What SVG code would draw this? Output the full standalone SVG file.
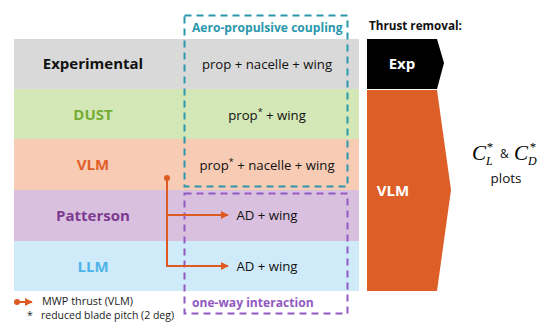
<svg xmlns="http://www.w3.org/2000/svg" width="550" height="323" viewBox="0 0 550 323">
<style>
.lbl{font-family:"Open Sans","Liberation Sans",sans-serif;font-weight:bold;font-size:15px;text-anchor:middle}
.cfg{font-family:"Open Sans","Liberation Sans",sans-serif;font-size:13.2px;fill:#111;text-anchor:middle}
.small{font-family:"Open Sans","Liberation Sans",sans-serif;font-size:10.5px;fill:#222}
.bh{font-family:"Open Sans","Liberation Sans",sans-serif;font-weight:bold;font-size:12.1px}
.conn{stroke:#DD5A22;stroke-width:2;fill:none}
.math{font-family:"Liberation Serif","DejaVu Serif",serif;font-style:italic}
</style>
<defs>
<marker id="ah" viewBox="0 0 10 10" refX="9" refY="5" markerWidth="4" markerHeight="4" orient="auto" markerUnits="strokeWidth">
<path d="M0,0 L10,5 L0,10 z" fill="#DD5A22"/>
</marker>
</defs>
<rect width="550" height="323" fill="#fff"/>
<g id="row-exp"><rect x="14" y="39" width="345" height="50" fill="#D9D9D9"/><text class="lbl" x="93" y="69" fill="#111">Experimental</text><text class="cfg" x="267" y="69">prop + nacelle + wing</text></g>
<g id="row-dust"><rect x="14" y="89" width="345" height="50" fill="#D3E8B6"/><text class="lbl" x="93" y="120" fill="#76AC35">DUST</text><text class="cfg" x="267" y="120">prop<tspan dy="-5" font-size="9">*</tspan><tspan dy="5"> + wing</tspan></text></g>
<g id="row-vlm"><rect x="14" y="139" width="345" height="51" fill="#F8CBB5"/><text class="lbl" x="93" y="170" fill="#E05F28">VLM</text><text class="cfg" x="267" y="170">prop<tspan dy="-5" font-size="9">*</tspan><tspan dy="5"> + nacelle + wing</tspan></text></g>
<g id="row-patterson"><rect x="14" y="190" width="345" height="51" fill="#D9C0DF"/><text class="lbl" x="93" y="221" fill="#7E3A90">Patterson</text><text class="cfg" x="267" y="220">AD + wing</text></g>
<g id="row-llm"><rect x="14" y="241" width="345" height="50" fill="#CFEAF8"/><text class="lbl" x="93" y="272" fill="#4DB3E9">LLM</text><text class="cfg" x="267" y="271">AD + wing</text></g>
<g id="box-coupling"><rect x="184.5" y="15.5" width="163" height="171" fill="none" stroke="#2A98AC" stroke-width="2" stroke-dasharray="7,5"/><text class="bh" x="192" y="32" fill="#2A98AC">Aero-propulsive coupling</text></g>
<g id="box-oneway"><rect x="184.5" y="193.5" width="163" height="120" fill="none" stroke="#9159C2" stroke-width="2" stroke-dasharray="7,5"/><text class="bh" x="192" y="307" fill="#9159C2">one-way interaction</text></g>
<g id="thrust-removal"><text class="bh" x="369" y="30" fill="#111" style="font-size:11.7px">Thrust removal:</text></g>
<g id="exp-shape"><polygon points="367,39 437,39 444,63 437,89 367,89" fill="#000"/><text class="lbl" x="402" y="69" fill="#fff">Exp</text></g>
<g id="vlm-shape"><polygon points="367,90 437,90 451,190 437,291 367,291" fill="#DD5F27"/><text class="lbl" x="393" y="196" fill="#fff">VLM</text></g>
<g id="plots"><text class="math" x="472" y="160" font-size="21">C<tspan font-size="12" dy="5">L</tspan><tspan font-size="13" dy="-14" dx="-6" font-style="normal">*</tspan></text><text x="500" y="158" font-family="'Open Sans',sans-serif" font-size="12" fill="#111">&amp;</text><text class="math" x="514" y="160" font-size="21">C<tspan font-size="12" dy="5">D</tspan><tspan font-size="13" dy="-14" dx="-7" font-style="normal">*</tspan></text><text class="cfg" x="506" y="183" style="font-size:13.5px">plots</text></g>
<g id="connectors">
<circle cx="167" cy="178" r="3" fill="#DD5A22"/>
<path class="conn" d="M167,178 V266 H228" marker-end="url(#ah)"/>
<path class="conn" d="M167,215 H228" marker-end="url(#ah)"/>
</g>
<g id="legend">
<circle cx="17" cy="302" r="3" fill="#DD5A22"/>
<path class="conn" d="M17,302 H32" marker-end="url(#ah)"/>
<text class="small" x="42" y="305" textLength="91" lengthAdjust="spacingAndGlyphs">MWP thrust (VLM)</text>
<text class="small" x="27" y="319">*</text>
<text class="small" x="41" y="319" textLength="133" lengthAdjust="spacingAndGlyphs">reduced blade pitch (2 deg)</text>
</g>
</svg>
